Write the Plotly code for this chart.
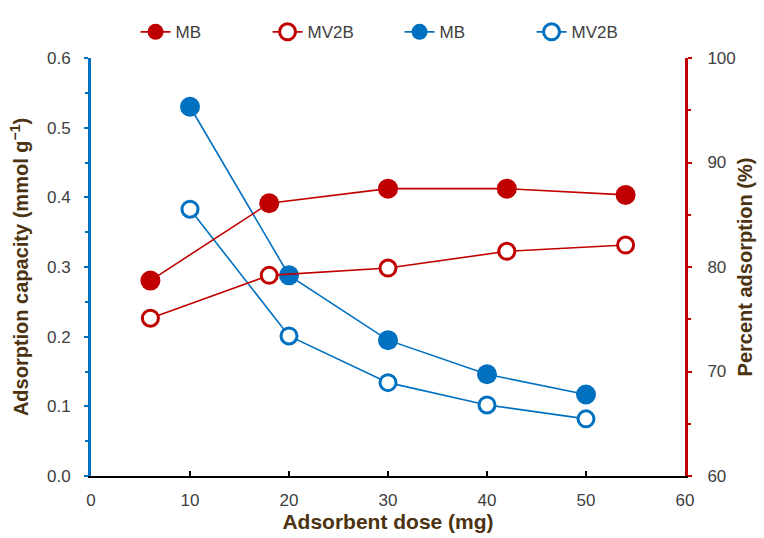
import plotly.graph_objects as go

# Adsorption capacity (left axis) vs adsorbent dose
dose_q = [10, 20, 30, 40, 50]
q_mb = [0.530, 0.288, 0.195, 0.146, 0.117]
q_mv2b = [0.383, 0.201, 0.134, 0.102, 0.082]

# Percent adsorption (right axis) vs adsorbent dose
dose_p = [6, 18, 30, 42, 54]
p_mb = [78.7, 86.1, 87.5, 87.5, 86.9]
p_mv2b = [75.1, 79.2, 79.9, 81.5, 82.1]

RED = "#C00000"
BLUE = "#0070C0"
TITLE_COLOR = "#4B3210"
TICK_COLOR = "#404040"
FONT = "Liberation Sans, Arial, sans-serif"

fig = go.Figure()

fig.add_trace(go.Scatter(
    x=dose_p, y=p_mb, name="MB", yaxis="y2", mode="lines+markers",
    line=dict(color=RED, width=1.6),
    marker=dict(symbol="circle", size=20, color=RED, line=dict(width=0)),
))
fig.add_trace(go.Scatter(
    x=dose_p, y=p_mv2b, name="MV2B", yaxis="y2", mode="lines+markers",
    line=dict(color=RED, width=1.6),
    marker=dict(symbol="circle", size=16, color="white", line=dict(color=RED, width=3)),
))
fig.add_trace(go.Scatter(
    x=dose_q, y=q_mb, name="MB", yaxis="y", mode="lines+markers",
    line=dict(color=BLUE, width=1.6),
    marker=dict(symbol="circle", size=20, color=BLUE, line=dict(width=0)),
))
fig.add_trace(go.Scatter(
    x=dose_q, y=q_mv2b, name="MV2B", yaxis="y", mode="lines+markers",
    line=dict(color=BLUE, width=1.6),
    marker=dict(symbol="circle", size=16, color="white", line=dict(color=BLUE, width=3)),
))

fig.update_layout(
    width=764, height=538,
    margin=dict(l=91, r=79, t=58, b=62, autoexpand=False),
    paper_bgcolor="white", plot_bgcolor="white",
    font=dict(family=FONT, size=17, color=TICK_COLOR),
    showlegend=True,
    legend=dict(
        orientation="h", x=0.075, xanchor="left",
        yref="container", y=0.94, yanchor="middle",
        font=dict(size=17, color=TICK_COLOR),
        entrywidth=87, entrywidthmode="pixels",
        traceorder="normal", bgcolor="rgba(0,0,0,0)",
    ),
    xaxis=dict(
        range=[0, 60], dtick=10, showgrid=False, zeroline=False,
        showline=True, linecolor="black", linewidth=2,
        ticks="inside", ticklen=5, tickwidth=2, tickcolor="black",
        ticklabelstandoff=8,
        tickfont=dict(size=17, color=TICK_COLOR),
        title=dict(text="<b>Adsorbent dose (mg)</b>",
                   font=dict(size=21, color=TITLE_COLOR), standoff=5),
    ),
    yaxis=dict(
        range=[0, 0.6], dtick=0.1, tickformat=".1f", showgrid=False, zeroline=False,
        showline=True, linecolor=BLUE, linewidth=3,
        ticks="outside", ticklen=4, tickwidth=2, tickcolor=BLUE,
        minor=dict(dtick=0.05, ticks="outside", ticklen=3, tickwidth=2, tickcolor=BLUE),
        ticklabelstandoff=10,
        tickfont=dict(size=17, color=TICK_COLOR),
        title=dict(text="<b>Adsorption capacity (mmol g<sup>−1</sup>)</b>",
                   font=dict(size=20, color=TITLE_COLOR), standoff=13),
    ),
    yaxis2=dict(
        range=[60, 100], dtick=10, overlaying="y", side="right",
        showgrid=False, zeroline=False,
        showline=True, linecolor=RED, linewidth=3,
        ticks="outside", ticklen=4, tickwidth=2, tickcolor=RED,
        minor=dict(dtick=5, ticks="outside", ticklen=3, tickwidth=2, tickcolor=RED),
        ticklabelstandoff=12,
        tickfont=dict(size=17, color=TICK_COLOR),
        title=dict(text="<b>Percent adsorption (%)</b>",
                   font=dict(size=20, color=TITLE_COLOR), standoff=4),
    ),
)

fig.write_html("out.html")
